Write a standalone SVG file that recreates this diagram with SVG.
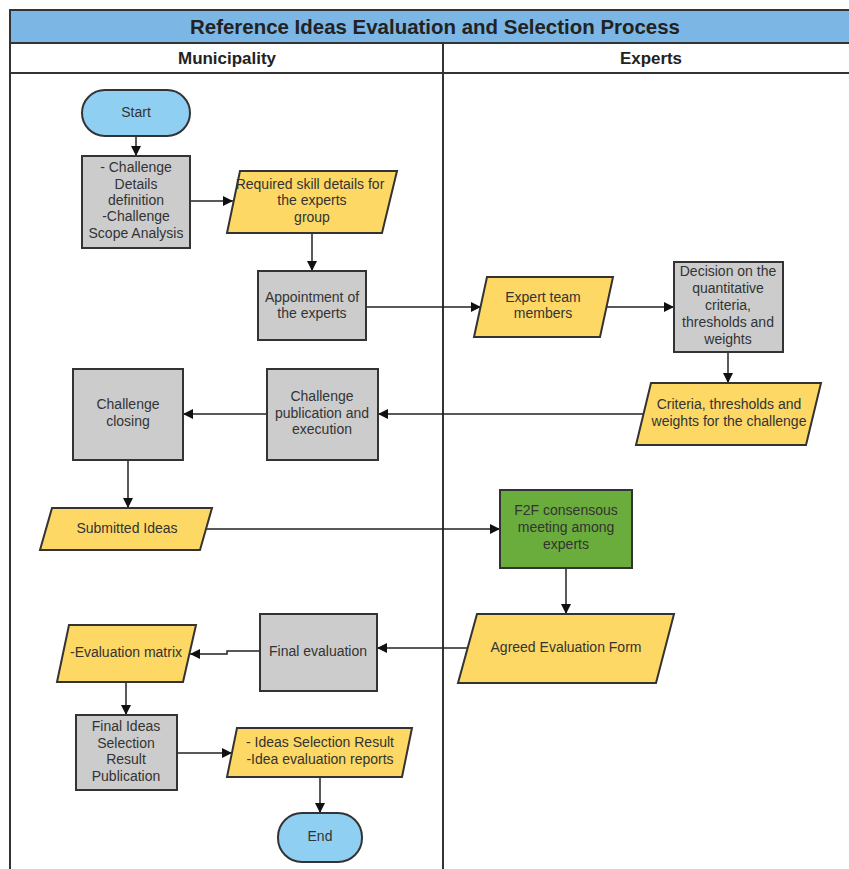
<svg xmlns="http://www.w3.org/2000/svg" width="849" height="869" viewBox="0 0 849 869">
<defs>
<marker id="arr" viewBox="0 0 10 10" refX="10" refY="5" markerWidth="10" markerHeight="10" markerUnits="userSpaceOnUse" orient="auto">
<path d="M0,0 L10,5 L0,10 z" fill="#111"/>
</marker>
<style>
.t{font-family:"Liberation Sans",Arial,sans-serif;font-size:14px;fill:#333;text-anchor:middle}
.gray{fill:#cccccc;stroke:#333;stroke-width:2}
.yel{fill:#fdd865;stroke:#333;stroke-width:2}
.blue{fill:#8fd0f2;stroke:#333;stroke-width:2}
.green{fill:#6aad3c;stroke:#333;stroke-width:2}
.c{fill:none;stroke:#222;stroke-width:1.5;marker-end:url(#arr)}
.hd{font-family:"Liberation Sans",Arial,sans-serif;font-weight:bold;fill:#222;text-anchor:middle}
</style>
</defs>
<rect width="849" height="869" fill="#fff"/>
<g id="frame">
<rect x="10" y="10" width="845" height="33" fill="#7cb6e4" stroke="#333" stroke-width="2"/>
<text class="hd" x="435" y="34" font-size="21" textLength="490" lengthAdjust="spacingAndGlyphs">Reference Ideas Evaluation and Selection Process</text>
<rect x="10" y="43" width="845" height="30" fill="#fff" stroke="#333" stroke-width="2"/>
<text class="hd" x="227" y="64" font-size="17" textLength="98" lengthAdjust="spacingAndGlyphs">Municipality</text>
<text class="hd" x="651" y="64" font-size="17" textLength="62" lengthAdjust="spacingAndGlyphs">Experts</text>
<line x1="10" y1="73" x2="10" y2="869" stroke="#333" stroke-width="2"/>
<line x1="443" y1="43" x2="443" y2="869" stroke="#333" stroke-width="2"/>
</g>
<g id="connectors">
<line class="c" x1="136" y1="136" x2="136" y2="156"/>
<line class="c" x1="191" y1="201" x2="233" y2="201"/>
<line class="c" x1="312" y1="233" x2="312" y2="271"/>
<line class="c" x1="366" y1="307" x2="481" y2="307"/>
<line class="c" x1="607" y1="307" x2="674" y2="307"/>
<line class="c" x1="728" y1="352" x2="728" y2="383"/>
<line class="c" x1="643" y1="414" x2="378" y2="414"/>
<line class="c" x1="267" y1="414" x2="183" y2="414"/>
<line class="c" x1="128" y1="460" x2="128" y2="508"/>
<line class="c" x1="206" y1="529" x2="500" y2="529"/>
<line class="c" x1="566" y1="568" x2="566" y2="614"/>
<line class="c" x1="467" y1="648" x2="377" y2="648"/>
<polyline class="c" points="260,651 227,651 227,654 190,654"/>
<line class="c" x1="126" y1="682" x2="126" y2="715"/>
<line class="c" x1="177" y1="753" x2="232" y2="753"/>
<line class="c" x1="320" y1="777" x2="320" y2="813"/>
</g>
<g id="start">
<rect class="blue" x="82" y="90" width="108" height="46" rx="23"/>
<text class="t" x="136" y="117">Start</text>
</g>
<g id="challenge-details">
<rect class="gray" x="82" y="156" width="108" height="92"/>
<text class="t" x="136" y="172">- Challenge</text>
<text class="t" x="136" y="189">Details</text>
<text class="t" x="136" y="205">definition</text>
<text class="t" x="136" y="221">-Challenge</text>
<text class="t" x="136" y="238">Scope Analysis</text>
</g>
<g id="required-skills">
<polygon class="yel" points="240,171 397,171 382,233 227,233"/>
<text class="t" x="310" y="189">Required skill details for</text>
<text class="t" x="312" y="205">the experts</text>
<text class="t" x="312" y="222">group</text>
</g>
<g id="appointment">
<rect class="gray" x="258" y="271" width="108" height="69"/>
<text class="t" x="312" y="302">Appointment of</text>
<text class="t" x="312" y="318">the experts</text>
</g>
<g id="expert-team">
<polygon class="yel" points="487,277 613,277 600,337 474,337"/>
<text class="t" x="543" y="302">Expert team</text>
<text class="t" x="543" y="318">members</text>
</g>
<g id="decision">
<rect class="gray" x="674" y="262" width="109" height="90"/>
<text class="t" x="728" y="276">Decision on the</text>
<text class="t" x="728" y="293">quantitative</text>
<text class="t" x="728" y="310">criteria,</text>
<text class="t" x="728" y="327">thresholds and</text>
<text class="t" x="728" y="344">weights</text>
</g>
<g id="criteria">
<polygon class="yel" points="651,383 821,383 806,445 636,445"/>
<text class="t" x="729" y="409">Criteria, thresholds and</text>
<text class="t" x="729" y="426">weights for the challenge</text>
</g>
<g id="publication">
<rect class="gray" x="267" y="369" width="111" height="91"/>
<text class="t" x="322" y="401">Challenge</text>
<text class="t" x="322" y="418">publication and</text>
<text class="t" x="322" y="434">execution</text>
</g>
<g id="closing">
<rect class="gray" x="73" y="369" width="110" height="91"/>
<text class="t" x="128" y="409">Challenge</text>
<text class="t" x="128" y="426">closing</text>
</g>
<g id="submitted">
<polygon class="yel" points="52,508 212,508 200,550 40,550"/>
<text class="t" x="127" y="533">Submitted Ideas</text>
</g>
<g id="f2f">
<rect class="green" x="500" y="490" width="132" height="78"/>
<text class="t" x="566" y="515">F2F consensous</text>
<text class="t" x="566" y="532">meeting among</text>
<text class="t" x="566" y="549">experts</text>
</g>
<g id="agreed">
<polygon class="yel" points="477,614 674,614 656,683 458,683"/>
<text class="t" x="566" y="652">Agreed Evaluation Form</text>
</g>
<g id="final-eval">
<rect class="gray" x="260" y="614" width="117" height="77"/>
<text class="t" x="318" y="656">Final evaluation</text>
</g>
<g id="eval-matrix">
<polygon class="yel" points="69,625 196,625 183,682 57,682"/>
<text class="t" x="126" y="657">-Evaluation matrix</text>
</g>
<g id="final-ideas">
<rect class="gray" x="76" y="715" width="101" height="75"/>
<text class="t" x="126" y="731">Final Ideas</text>
<text class="t" x="126" y="748">Selection</text>
<text class="t" x="126" y="764">Result</text>
<text class="t" x="126" y="781">Publication</text>
</g>
<g id="results">
<polygon class="yel" points="237,728 412,728 402,777 227,777"/>
<text class="t" x="320" y="747">- Ideas Selection Result</text>
<text class="t" x="320" y="764">-Idea evaluation reports</text>
</g>
<g id="end">
<rect class="blue" x="278" y="813" width="84" height="49" rx="24"/>
<text class="t" x="320" y="841">End</text>
</g>
</svg>
